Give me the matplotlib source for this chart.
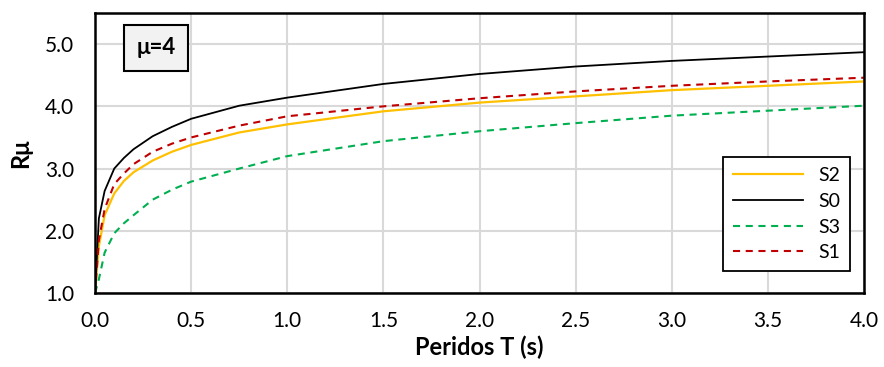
import matplotlib
matplotlib.use("Agg")
import matplotlib.pyplot as plt
from matplotlib.ticker import FormatStrFormatter

plt.rcParams['font.family'] = ['Lato', 'DejaVu Sans']

# Period grid (s) and reduction factor for each soil type
periods = [0, 0.02, 0.05, 0.1, 0.15, 0.2, 0.3, 0.4, 0.5, 0.75, 1.0,
           1.5, 2.0, 2.5, 3.0, 3.5, 4.0]
r_s2 = [1.0, 1.75, 2.25, 2.60, 2.80, 2.94, 3.13, 3.27, 3.38, 3.58, 3.71,
        3.92, 4.06, 4.16, 4.26, 4.33, 4.40]
r_s0 = [1.0, 2.20, 2.64, 3.00, 3.17, 3.31, 3.52, 3.67, 3.80, 4.01, 4.14,
        4.36, 4.52, 4.64, 4.73, 4.80, 4.87]
r_s3 = [1.0, 1.22, 1.65, 1.96, 2.12, 2.25, 2.50, 2.66, 2.79, 3.00, 3.20,
        3.44, 3.60, 3.73, 3.85, 3.93, 4.01]
r_s1 = [1.0, 1.85, 2.35, 2.75, 2.92, 3.07, 3.27, 3.40, 3.50, 3.69, 3.84,
        4.00, 4.13, 4.24, 4.33, 4.40, 4.46]

series_labels = ['S2', 'S0', 'S3', 'S1']
x_ticks = [0.0, 0.5, 1.0, 1.5, 2.0, 2.5, 3.0, 3.5, 4.0]
y_ticks = [1.0, 2.0, 3.0, 4.0, 5.0]

fig = plt.figure(figsize=(8.84, 3.67), dpi=100)
ax = fig.add_axes([0.1075, 0.2016, 0.8699, 0.763])

dash = (0, (3.4, 2.7))
ax.plot(periods, r_s2, color='#FFC000', lw=1.6, label=series_labels[0])
ax.plot(periods, r_s0, color='#000000', lw=1.3, label=series_labels[1])
ax.plot(periods, r_s3, color='#00B050', lw=1.5, ls=dash, label=series_labels[2])
ax.plot(periods, r_s1, color='#C00000', lw=1.5, ls=dash, label=series_labels[3])

ax.set_xlim(0, 4)
ax.set_ylim(1, 5.5)
ax.set_xticks(x_ticks)
ax.set_yticks(y_ticks)
ax.xaxis.set_major_formatter(FormatStrFormatter('%.1f'))
ax.yaxis.set_major_formatter(FormatStrFormatter('%.1f'))
ax.tick_params(axis='both', length=0, labelsize=15, colors='#000000')
ax.tick_params(axis='x', pad=13)
ax.tick_params(axis='y', pad=15)

ax.grid(True, color='#D9D9D9', lw=1.5)
ax.set_axisbelow(True)
for s in ax.spines.values():
    s.set_linewidth(1.8)
    s.set_color('#000000')

ax.set_xlabel('Peridos T (s)', fontsize=17, fontweight='bold', labelpad=3)
ax.set_ylabel('Rμ', fontsize=17, fontweight='bold', labelpad=9)

ax.text(0.317, 4.94, 'μ=4', fontsize=16, fontweight='bold',
        ha='center', va='center',
        bbox=dict(boxstyle='square,pad=0.55', facecolor='#F2F2F2',
                  edgecolor='#000000', linewidth=1.5))

leg = ax.legend(loc='lower right', bbox_to_anchor=(0.982, 0.0786),
                fontsize=14, frameon=True, fancybox=False,
                edgecolor='#000000', framealpha=1.0,
                handlelength=3.6, labelspacing=0.45, borderpad=0.5,
                handletextpad=0.8, borderaxespad=0)
leg.get_frame().set_linewidth(1.3)

fig.savefig('out.png', dpi=100)
